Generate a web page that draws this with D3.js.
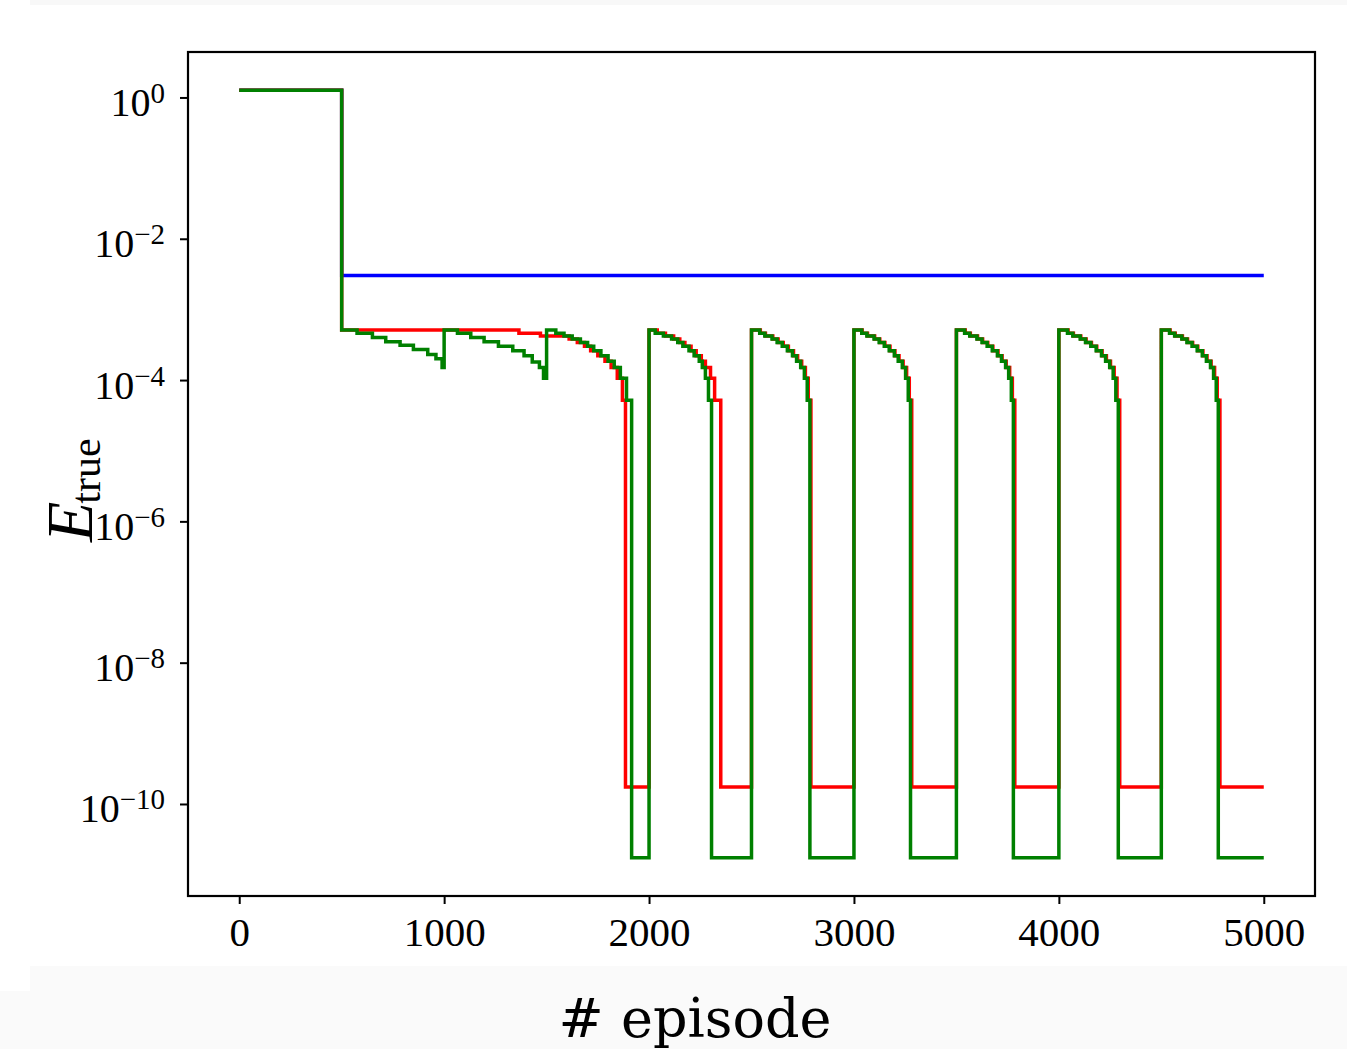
<!DOCTYPE html>
<html lang="en">
    <head>
        <meta charset="utf-8">
        <title>E_true vs episode</title>
        <script type="text/javascript" src="https://cdn.jsdelivr.net/npm/d3@7"></script>
        <style>
            body { margin: 0; background: #fff; }
        </style>
    </head>
    <body>
        <script type="text/javascript">
            // step data: [episode, value]
            var blueSteps = [[0, 1.26], [500, 3.03e-3], [5000, 3.03e-3]];

            var redSteps = [
                [0, 1.26], [500, 5.1e-4], [1365, 4.6e-4], [1470, 4.2e-4],
                [1610, 3.8e-4], [1650, 3.4e-4], [1685, 3.0e-4], [1715, 2.6e-4], [1750, 2.2e-4], [1785, 1.85e-4], [1815, 1.5e-4], [1845, 1.06e-4], [1870, 5.2e-5], [1885, 1.74e-10],
                [2000, 5.1e-4], [2040, 4.6e-4], [2080, 4.2e-4], [2120, 3.8e-4], [2150, 3.4e-4], [2175, 3.0e-4], [2205, 2.6e-4], [2230, 2.2e-4], [2255, 1.85e-4], [2275, 1.5e-4], [2300, 1.06e-4], [2320, 5.2e-5], [2350, 1.74e-10],
                [2500, 5.1e-4], [2543, 4.6e-4], [2568, 4.2e-4], [2604, 3.8e-4], [2630, 3.4e-4], [2655, 3.0e-4], [2680, 2.6e-4], [2705, 2.2e-4], [2725, 1.85e-4], [2745, 1.5e-4], [2763, 1.06e-4], [2777, 5.2e-5], [2790, 1.74e-10],
                [3000, 5.1e-4], [3040, 4.6e-4], [3066, 4.2e-4], [3101, 3.8e-4], [3126, 3.4e-4], [3151, 3.0e-4], [3176, 2.6e-4], [3200, 2.2e-4], [3220, 1.85e-4], [3240, 1.5e-4], [3257, 1.06e-4], [3270, 5.2e-5], [3282, 1.74e-10],
                [3500, 5.1e-4], [3543, 4.6e-4], [3568, 4.2e-4], [3603, 3.8e-4], [3628, 3.4e-4], [3653, 3.0e-4], [3678, 2.6e-4], [3703, 2.2e-4], [3723, 1.85e-4], [3743, 1.5e-4], [3760, 1.06e-4], [3773, 5.2e-5], [3785, 1.74e-10],
                [4000, 5.1e-4], [4045, 4.6e-4], [4071, 4.2e-4], [4107, 3.8e-4], [4133, 3.4e-4], [4159, 3.0e-4], [4185, 2.6e-4], [4211, 2.2e-4], [4232, 1.85e-4], [4252, 1.5e-4], [4270, 1.06e-4], [4284, 5.2e-5], [4297, 1.74e-10],
                [4500, 5.1e-4], [4543, 4.6e-4], [4568, 4.2e-4], [4603, 3.8e-4], [4628, 3.4e-4], [4653, 3.0e-4], [4678, 2.6e-4], [4703, 2.2e-4], [4723, 1.85e-4], [4743, 1.5e-4], [4760, 1.06e-4], [4773, 5.2e-5], [4786, 1.74e-10],
                [5000, 1.74e-10]
            ];

            var greenSteps = [
                [0, 1.26],
                [500, 5.1e-4], [575, 4.6e-4], [650, 4.0e-4], [715, 3.5e-4], [785, 3.1e-4], [850, 2.7e-4], [920, 2.3e-4], [960, 2.0e-4], [990, 1.5e-4],
                [1000, 5.1e-4], [1065, 4.6e-4], [1130, 4.0e-4], [1195, 3.5e-4], [1265, 3.0e-4], [1335, 2.6e-4], [1390, 2.2e-4], [1430, 1.8e-4], [1465, 1.5e-4], [1485, 1.06e-4],
                [1500, 5.1e-4], [1545, 4.6e-4], [1585, 4.2e-4], [1625, 3.8e-4], [1665, 3.4e-4], [1700, 3.0e-4], [1730, 2.6e-4], [1765, 2.2e-4], [1800, 1.85e-4], [1830, 1.5e-4], [1860, 1.06e-4], [1890, 5.2e-5], [1915, 1.74e-11],
                [2000, 5.1e-4], [2030, 4.6e-4], [2070, 4.2e-4], [2110, 3.8e-4], [2140, 3.4e-4], [2165, 3.0e-4], [2195, 2.6e-4], [2220, 2.2e-4], [2245, 1.85e-4], [2260, 1.5e-4], [2275, 1.06e-4], [2290, 5.2e-5], [2305, 1.74e-11],
                [2500, 5.1e-4], [2540, 4.6e-4], [2565, 4.2e-4], [2600, 3.8e-4], [2625, 3.4e-4], [2650, 3.0e-4], [2675, 2.6e-4], [2700, 2.2e-4], [2720, 1.85e-4], [2740, 1.5e-4], [2758, 1.06e-4], [2772, 5.2e-5], [2785, 1.74e-11],
                [3000, 5.1e-4], [3038, 4.6e-4], [3063, 4.2e-4], [3098, 3.8e-4], [3123, 3.4e-4], [3148, 3.0e-4], [3172, 2.6e-4], [3197, 2.2e-4], [3216, 1.85e-4], [3236, 1.5e-4], [3252, 1.06e-4], [3265, 5.2e-5], [3276, 1.74e-11],
                [3500, 5.1e-4], [3540, 4.6e-4], [3565, 4.2e-4], [3600, 3.8e-4], [3625, 3.4e-4], [3650, 3.0e-4], [3675, 2.6e-4], [3700, 2.2e-4], [3720, 1.85e-4], [3740, 1.5e-4], [3755, 1.06e-4], [3768, 5.2e-5], [3778, 1.74e-11],
                [4000, 5.1e-4], [4042, 4.6e-4], [4068, 4.2e-4], [4104, 3.8e-4], [4130, 3.4e-4], [4156, 3.0e-4], [4182, 2.6e-4], [4208, 2.2e-4], [4228, 1.85e-4], [4248, 1.5e-4], [4265, 1.06e-4], [4278, 5.2e-5], [4290, 1.74e-11],
                [4500, 5.1e-4], [4540, 4.6e-4], [4565, 4.2e-4], [4600, 3.8e-4], [4625, 3.4e-4], [4650, 3.0e-4], [4675, 2.6e-4], [4700, 2.2e-4], [4720, 1.85e-4], [4740, 1.5e-4], [4755, 1.06e-4], [4768, 5.2e-5], [4778, 1.74e-11],
                [5000, 1.74e-11]
            ];

            var xTicks = [0, 1000, 2000, 3000, 4000, 5000];
            var yExponents = [0, -2, -4, -6, -8, -10];

            var w = 1347;
            var h = 1049;
            var margin = { top: 52, right: 32, bottom: 153, left: 188 };

            var svg = d3.select("body")
                        .append("svg")
                        .attr("width", w)
                        .attr("height", h);

            // light grey strips from the screenshot
            svg.append("rect").attr("x", 30).attr("y", 0).attr("width", w - 30).attr("height", 5).attr("fill", "#f8f8f8");
            svg.append("rect").attr("x", 30).attr("y", 966).attr("width", w - 30).attr("height", 26).attr("fill", "#fafafa");
            svg.append("rect").attr("x", 0).attr("y", 991).attr("width", w).attr("height", h - 991).attr("fill", "#fafafa");

            // 5% padding like matplotlib
            var xScale = d3.scaleLinear()
                           .domain([-250, 5250])
                           .range([margin.left, w - margin.right]);

            var allVals = blueSteps.concat(redSteps, greenSteps).map(function(d) { return Math.log10(d[1]); });
            var lo = d3.min(allVals), hi = d3.max(allVals);
            var pad = (hi - lo) * 0.05;
            var yScale = d3.scaleLog()
                           .domain([Math.pow(10, lo - pad), Math.pow(10, hi + pad)])
                           .range([h - margin.bottom, margin.top]);

            var line = d3.line()
                         .curve(d3.curveStepAfter)
                         .x(function(d) { return xScale(d[0]); })
                         .y(function(d) { return yScale(d[1]); });

            var series = [
                { data: blueSteps, color: "#0000ff" },
                { data: redSteps, color: "#ff0000" },
                { data: greenSteps, color: "#008000" }
            ];

            svg.selectAll("path.series")
               .data(series)
               .enter()
               .append("path")
               .attr("class", "series")
               .attr("d", function(d) { return line(d.data); })
               .attr("fill", "none")
               .attr("stroke", function(d) { return d.color; })
               .attr("stroke-width", 3.5)
               .attr("stroke-linejoin", "miter");

            // frame
            svg.append("rect")
               .attr("x", margin.left)
               .attr("y", margin.top)
               .attr("width", w - margin.right - margin.left)
               .attr("height", h - margin.bottom - margin.top)
               .attr("fill", "none")
               .attr("stroke", "#000")
               .attr("stroke-width", 2.2);

            var xAxis = d3.axisBottom(xScale)
                          .tickValues(xTicks)
                          .tickSize(8)
                          .tickFormat(d3.format("d"));

            var gx = svg.append("g")
               .attr("transform", "translate(0," + (h - margin.bottom) + ")")
               .call(xAxis);
            gx.select(".domain").remove();
            gx.selectAll(".tick line").attr("stroke", "#000").attr("stroke-width", 2);
            gx.selectAll(".tick text")
              .attr("y", 50)
              .attr("dy", 0)
              .attr("fill", "#000")
              .style("font-family", "'Liberation Serif', serif")
              .style("font-size", "41px");

            var yAxis = d3.axisLeft(yScale)
                          .tickValues(yExponents.map(function(e) { return Math.pow(10, e); }))
                          .tickSize(8)
                          .tickPadding(15)
                          .tickFormat("");

            var gy = svg.append("g")
               .attr("transform", "translate(" + margin.left + ",0)")
               .call(yAxis);
            gy.select(".domain").remove();
            gy.selectAll(".tick line").attr("stroke", "#000").attr("stroke-width", 2);
            gy.selectAll(".tick text").each(function(d) {
                var e = Math.round(Math.log10(d));
                var t = d3.select(this)
                          .attr("dy", "0.45em")
                          .attr("fill", "#000")
                          .style("font-family", "'Liberation Serif', serif")
                          .style("font-size", "40px");
                t.append("tspan").text("10");
                t.append("tspan")
                 .attr("dy", "-0.45em")
                 .style("font-size", "29px")
                 .text(e === 0 ? "0" : "\u2212" + Math.abs(e));
            });

            // y label E_true
            var yl = svg.append("text")
               .attr("transform", "translate(92,542) rotate(-90)")
               .attr("fill", "#000")
               .style("font-family", "'Liberation Serif', serif");
            yl.append("tspan").style("font-size", "66px").style("font-style", "italic").text("E");
            yl.append("tspan").attr("dy", 8).attr("dx", -2).style("font-size", "42px").text("true");

            // x label
            svg.append("text")
               .attr("x", 695)
               .attr("y", 1037)
               .style("text-anchor", "middle")
               .style("font-family", "'DejaVu Serif', serif")
               .style("font-size", "54px")
               .attr("fill", "#000")
               .text("# episode");
        </script>
    </body>
</html>
